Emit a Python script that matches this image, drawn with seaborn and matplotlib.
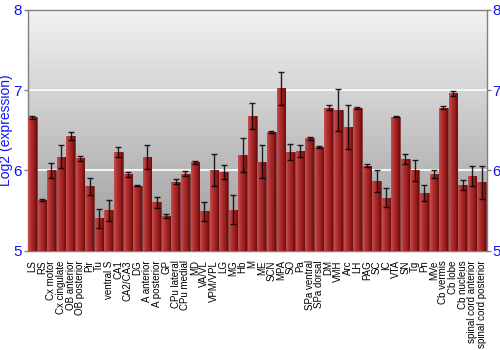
import numpy as np
import pandas as pd
import matplotlib
matplotlib.use("Agg")
import matplotlib.pyplot as plt
import seaborn as sns
from matplotlib.colors import LinearSegmentedColormap

regions = ["LS", "RS", "Cx motor", "Cx cingulate", "OB anterior", "OB posterior", "Pir", "Tu",
           "ventral S", "CA1", "CA2/CA3", "DG", "A anterior", "A posterior", "GP", "CPu lateral",
           "CPu medial", "MD", "VA/VL", "VPM/VPL", "LG", "MG", "Hb", "M", "ME", "SCN", "MPA",
           "SO", "Pa", "SPa ventral", "SPa dorsal", "DM", "VMH", "Arc", "LH", "PAG", "SC", "IC",
           "VTA", "SN", "Tg", "Pn", "MVe", "Cb vermis", "Cb lobe", "Cb nucleus",
           "spinal cord anterior", "spinal cord posterior"]
expression = [6.66, 5.63, 6.00, 6.17, 6.43, 6.15, 5.80, 5.40,
              5.50, 6.23, 5.95, 5.81, 6.17, 5.60, 5.43, 5.86,
              5.96, 6.10, 5.49, 6.00, 5.98, 5.51, 6.19, 6.68, 6.11, 6.48, 7.02,
              6.23, 6.24, 6.40, 6.29, 6.78, 6.75, 6.54, 6.78, 6.06, 5.87, 5.66,
              6.67, 6.14, 6.00, 5.72, 5.95, 6.78, 6.96, 5.82,
              5.93, 5.85]
error = [0.02, 0.01, 0.09, 0.14, 0.05, 0.03, 0.11, 0.12,
         0.13, 0.06, 0.03, 0.01, 0.15, 0.07, 0.03, 0.03,
         0.03, 0.02, 0.12, 0.20, 0.09, 0.18, 0.21, 0.16, 0.21, 0.01, 0.20,
         0.10, 0.07, 0.02, 0.01, 0.03, 0.26, 0.27, 0.01, 0.02, 0.14, 0.12,
         0.005, 0.06, 0.13, 0.10, 0.05, 0.02, 0.03, 0.06,
         0.13, 0.21]
yticks = [5, 6, 7, 8]

df = pd.DataFrame({"region": regions, "expression": expression, "error": error})

sns.set_theme(style="white")
plt.rcParams["font.family"] = ["Liberation Sans", "DejaVu Sans"]

fig = plt.figure(figsize=(5, 3.5), dpi=100)
ax = fig.add_axes([0.055, 0.284, 0.918, 0.688])

# background gradient
bg = LinearSegmentedColormap.from_list("bg", ["#9a9a9a", "#f2f2f2"])
grad = np.linspace(0, 1, 256).reshape(-1, 1)
ax.imshow(grad, cmap=bg, origin="lower", aspect="auto", extent=[0, 1, 0, 1],
          transform=ax.transAxes, zorder=0)

sns.barplot(data=df, x="region", y="expression", ax=ax, color="#a02020",
            width=0.9, errorbar=None, zorder=3)

ax.set_ylim(5, 8)
ax.set_xlim(-0.5, len(regions) - 0.5)

# horizontal gradient fill on each bar
barcmap = LinearSegmentedColormap.from_list("bar", ["#c85050", "#b03030", "#9a2020", "#6a0c0c"])
hgrad = np.linspace(0, 1, 64).reshape(1, -1)
for p in ax.patches:
    x0, y0 = p.get_x(), p.get_y()
    w, h = p.get_width(), p.get_height()
    p.set_edgecolor("#6a2020")
    p.set_linewidth(0.4)
    im = ax.imshow(hgrad, cmap=barcmap, aspect="auto", extent=[x0, x0 + w, 5, y0 + h],
                   zorder=3.5)
    im.set_clip_path(p)

ax.set_xlim(-0.5, len(regions) - 0.5)
ax.set_ylim(5, 8)

ax.errorbar(x=np.arange(len(regions)), y=df["expression"], yerr=df["error"],
            fmt="none", ecolor="black", elinewidth=1.0, capsize=2, capthick=1.0,
            alpha=0.85, zorder=5)

for v in [6, 7]:
    ax.axhline(v, color="white", lw=1.2, zorder=1)

ax.set_yticks(yticks)
ax.tick_params(axis="y", which="both", left=True, right=True, labelleft=True,
               labelright=True, colors="#808080", labelcolor="#1010ff",
               labelsize=11, length=3, width=1, pad=1, direction="out")
ax.tick_params(axis="x", bottom=False, labelsize=7, pad=1, labelcolor="black")
plt.setp(ax.get_xticklabels(), rotation=90)

for s in ["left", "top", "right", "bottom"]:
    ax.spines[s].set_visible(True)
    ax.spines[s].set_color("#808080")
    ax.spines[s].set_linewidth(1)

ax.set_xlabel("")
ax.set_ylabel("Log2 (expression)", color="#1010ff", fontsize=10)
ax.yaxis.set_label_coords(-0.031, 0.5)

fig.savefig("out.png", dpi=100)
